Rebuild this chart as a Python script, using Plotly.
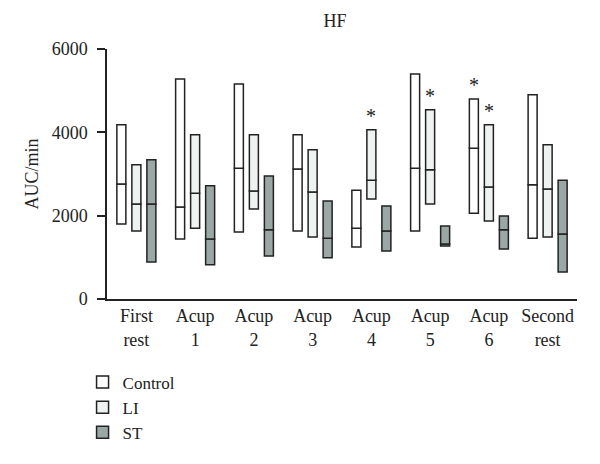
import plotly.graph_objects as go

categories = ["First<br>rest", "Acup<br>1", "Acup<br>2", "Acup<br>3", "Acup<br>4",
              "Acup<br>5", "Acup<br>6", "Second<br>rest"]
series_names = ["Control", "LI", "ST"]

control_min = [1800, 1440, 1610, 1630, 1250, 1630, 2060, 1460]
control_med = [2760, 2210, 3140, 3120, 1700, 3140, 3620, 2740]
control_max = [4180, 5280, 5160, 3940, 2610, 5400, 4800, 4900]

li_min = [1630, 1700, 2160, 1490, 2400, 2280, 1870, 1490]
li_med = [2280, 2540, 2590, 2570, 2850, 3100, 2690, 2640]
li_max = [3220, 3940, 3940, 3580, 4060, 4540, 4180, 3700]

st_min = [890, 820, 1030, 990, 1150, 1270, 1200, 650]
st_med = [2280, 1440, 1660, 1460, 1630, 1320, 1660, 1560]
st_max = [3340, 2720, 2950, 2350, 2230, 1750, 1990, 2850]

# significance markers: (category index, series index)
stars = [(4, 1), (5, 1), (6, 0), (6, 1)]

colors = ["#ffffff", "#eef2f1", "#9aa8a5"]
line_color = "#222222"
font_family = "Liberation Serif"

mins = [control_min, li_min, st_min]
meds = [control_med, li_med, st_med]
maxs = [control_max, li_max, st_max]

fig = go.Figure()
for s, name in enumerate(series_names):
    lo = [m - a for a, m in zip(mins[s], meds[s])]
    hi = [b - m for m, b in zip(meds[s], maxs[s])]
    fig.add_trace(go.Bar(x=categories, y=lo, base=mins[s], name=name,
                         offsetgroup=name, legendgroup=name, showlegend=True,
                         marker=dict(color=colors[s], line=dict(color=line_color, width=1.5))))
    fig.add_trace(go.Bar(x=categories, y=hi, base=meds[s], name=name,
                         offsetgroup=name, legendgroup=name, showlegend=False,
                         marker=dict(color=colors[s], line=dict(color=line_color, width=1.5))))

margin_l, margin_r, margin_t, margin_b = 99, 31, 41, 173
W, H = 600, 464
bargap = 0.234
plot_w = W - margin_l - margin_r
cat_px = plot_w / len(categories)
slot_px = cat_px * (1 - bargap) / 3

for ci, si in stars:
    fig.add_annotation(x=categories[ci], y=maxs[si][ci], text="*", showarrow=False,
                       xshift=(si - 1) * slot_px, yshift=1, yanchor="bottom",
                       font=dict(size=20, color="#222222", family=font_family))

fig.update_layout(
    width=W, height=H,
    margin=dict(l=margin_l, r=margin_r, t=margin_t, b=margin_b, autoexpand=False),
    barmode="group", bargap=bargap, bargroupgap=0.4,
    plot_bgcolor="white", paper_bgcolor="white",
    font=dict(family=font_family, size=18, color="#222222"),
    title=dict(text="HF", x=0.545, xanchor="center", y=0.972, yanchor="middle",
               font=dict(size=18, family=font_family, color="#222222")),
    legend=dict(x=-0.052, y=-0.262, xanchor="left", yanchor="top",
                font=dict(size=17, family=font_family, color="#222222"),
                tracegroupgap=0, itemwidth=30, traceorder="normal"),
)
fig.update_xaxes(showline=True, linecolor="#222222", linewidth=1.5, ticks="",
                 showgrid=False, tickfont=dict(size=18, family=font_family))
fig.update_yaxes(range=[0, 6000], tickvals=[0, 2000, 4000, 6000], showline=True,
                 linecolor="#222222", linewidth=1.5, ticks="outside", ticklen=8,
                 tickcolor="#222222", tickwidth=1.5, showgrid=False, zeroline=False,
                 ticklabelstandoff=6,
                 title=dict(text="AUC/min", font=dict(size=18, family=font_family), standoff=8),
                 tickfont=dict(size=18, family=font_family))

fig.write_html("out.html")
